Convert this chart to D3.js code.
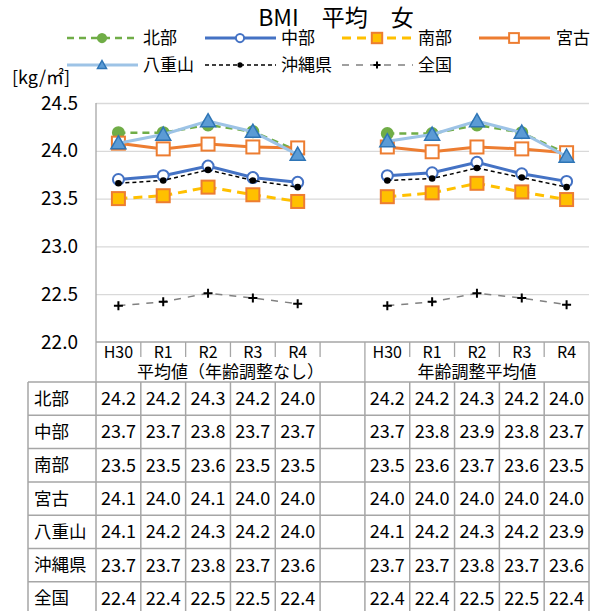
<!DOCTYPE html>
<html>
<head>
<meta charset="utf-8">
<script src="https://cdn.jsdelivr.net/npm/d3@7"></script>
<style>
  body { margin: 0; background: #fff; }
  svg { display: block; font-family: "Noto Sans CJK JP", "Noto Sans", sans-serif; }
</style>
</head>
<body>
<svg id="chart" width="596" height="611"></svg>
<script>
// Section for Data

var years = ["H30", "R1", "R2", "R3", "R4"];
var groupNames = ["平均値（年齢調整なし）", "年齢調整平均値"];
var regionNames = ["北部", "中部", "南部", "宮古", "八重山", "沖縄県", "全国"];
var yTicks = [22.0, 22.5, 23.0, 23.5, 24.0, 24.5];

// first five = 平均値（年齢調整なし）, last five = 年齢調整平均値
var hokubu   = [24.19, 24.19, 24.27, 24.20, 24.00,  24.18, 24.18, 24.27, 24.19, 23.97];
var chubu    = [23.70, 23.74, 23.84, 23.72, 23.67,  23.74, 23.77, 23.88, 23.76, 23.68];
var nanbu    = [23.50, 23.53, 23.62, 23.54, 23.47,  23.52, 23.56, 23.66, 23.57, 23.49];
var miyako   = [24.08, 24.02, 24.07, 24.04, 24.03,  24.04, 23.99, 24.04, 24.02, 23.98];
var yaeyama  = [24.08, 24.17, 24.31, 24.20, 23.96,  24.10, 24.17, 24.31, 24.19, 23.94];
var okinawa  = [23.66, 23.69, 23.80, 23.69, 23.62,  23.69, 23.71, 23.82, 23.72, 23.62];
var zenkoku  = [22.38, 22.42, 22.51, 22.46, 22.40,  22.38, 22.42, 22.51, 22.46, 22.39];

var seriesValues = [hokubu, chubu, nanbu, miyako, yaeyama, okinawa, zenkoku];

// Section for styles
var styles = [
  { color: "#70AD47", width: 2.5, dash: "7,5", marker: "circle", fill: "#70AD47", stroke: "#70AD47" },
  { color: "#4472C4", width: 3,   dash: null,  marker: "circle", fill: "#fff",    stroke: "#4472C4" },
  { color: "#FFC000", width: 3,   dash: "9,6", marker: "square", fill: "#FFC000", stroke: "#ED7D31" },
  { color: "#ED7D31", width: 3,   dash: null,  marker: "square", fill: "#fff",    stroke: "#ED7D31" },
  { color: "#9DC3E6", width: 3,   dash: null,  marker: "triangle", fill: "#5B9BD5", stroke: "#2E75B6" },
  { color: "#000",    width: 1.5, dash: "4,3", marker: "dot",    fill: "#000",    stroke: "#000" },
  { color: "#808080", width: 1.5, dash: "7,7", marker: "plus",   fill: "none",    stroke: "#000" }
];

// Section for layout
var plotLeft = 96, plotRight = 589, plotTop = 103, plotBottom = 342;
var tableTop = 382, rowH = 33.3, tableLeft = 28;
var gridColor = "#D9D9D9", lineColor = "#A6A6A6";

// category slots: 5 years, one empty slot, 5 years
var slots = years.map(function (d) { return "0-" + d; })
  .concat(["gap"])
  .concat(years.map(function (d) { return "1-" + d; }));

var x = d3.scaleBand().domain(slots).range([plotLeft, plotRight]);
var y = d3.scaleLinear().domain([22, 24.5]).range([plotBottom, plotTop]);

var svg = d3.select("#chart");

// Title
svg.append("text")
  .attr("x", 336).attr("y", 26)
  .attr("text-anchor", "middle")
  .attr("font-size", 23)
  .attr("fill", "#000")
  .text("BMI　平均　女");

// Gridlines
svg.append("g")
  .attr("transform", "translate(" + plotLeft + ",0)")
  .call(d3.axisLeft(y).tickValues(yTicks.slice(1)).tickSize(-(plotRight - plotLeft)).tickFormat(""))
  .call(function (g) {
    g.select(".domain").remove();
    g.selectAll("line").attr("stroke", gridColor).attr("stroke-width", 1.3);
  });

// Y axis labels
svg.append("g")
  .attr("transform", "translate(" + plotLeft + ",0)")
  .call(d3.axisLeft(y).tickValues(yTicks).tickSize(0).tickPadding(18).tickFormat(d3.format(".1f")))
  .call(function (g) {
    g.select(".domain").remove();
    g.selectAll("text").attr("font-size", 19).attr("fill", "#000")
      .attr("font-family", "'Noto Sans CJK JP', sans-serif");
  });

svg.append("text")
  .attr("x", 12).attr("y", 84)
  .attr("font-size", 18)
  .text("[kg/㎡]");

// Axis line and category separators
svg.append("line")
  .attr("x1", plotLeft).attr("x2", plotRight)
  .attr("y1", plotBottom).attr("y2", plotBottom)
  .attr("stroke", lineColor).attr("stroke-width", 1.3);

var bounds = slots.map(function (s) { return x(s); }).concat([plotRight]);
var isGroupEdge = function (i) { return i === 0 || i === 6 || i === 11; };
svg.append("g").selectAll("line")
  .data(bounds)
  .enter().append("line")
  .attr("x1", function (d) { return d; })
  .attr("x2", function (d) { return d; })
  .attr("y1", function (d, i) { return i === 0 ? plotTop : plotBottom; })
  .attr("y2", function (d, i) { return isGroupEdge(i) ? tableTop : plotBottom + 15; })
  .attr("stroke", lineColor).attr("stroke-width", 1.3);

// Category labels
svg.append("g").selectAll("text")
  .data(slots.filter(function (s) { return s !== "gap"; }))
  .enter().append("text")
  .attr("x", function (d) { return x(d) + x.bandwidth() / 2; })
  .attr("y", plotBottom + 16)
  .attr("text-anchor", "middle")
  .attr("font-size", 16)
  .text(function (d) { return d.split("-")[1]; });

// Group labels (first group includes the empty slot)
var groupCenters = [(x("0-H30") + x("1-H30")) / 2, (x("1-H30") + plotRight) / 2];
svg.append("g").selectAll("text")
  .data(groupNames)
  .enter().append("text")
  .attr("x", function (d, i) { return groupCenters[i]; })
  .attr("y", plotBottom + 36)
  .attr("text-anchor", "middle")
  .attr("font-size", 17)
  .text(function (d) { return d; });

// Series lines and markers
var cx = function (i) { return x(slots[i < 5 ? i : i + 1]) + x.bandwidth() / 2; };
var line = d3.line()
  .x(function (d) { return cx(d.i); })
  .y(function (d) { return y(d.v); });

function drawMarker(g, type, st, px, py, s) {
  if (type === "circle") {
    g.append("circle").attr("cx", px).attr("cy", py).attr("r", 5.5 * s)
      .attr("fill", st.fill).attr("stroke", st.stroke).attr("stroke-width", 2);
  } else if (type === "square") {
    var h = 6.5 * s;
    g.append("rect").attr("x", px - h).attr("y", py - h).attr("width", 2 * h).attr("height", 2 * h)
      .attr("fill", st.fill).attr("stroke", st.stroke).attr("stroke-width", 2);
  } else if (type === "triangle") {
    var t = 7.5 * s;
    g.append("path")
      .attr("d", "M" + px + "," + (py - t) + "L" + (px + t) + "," + (py + t * 0.75) + "L" + (px - t) + "," + (py + t * 0.75) + "Z")
      .attr("fill", st.fill).attr("stroke", st.stroke).attr("stroke-width", 1.5);
  } else if (type === "dot") {
    g.append("circle").attr("cx", px).attr("cy", py).attr("r", 3.3 * s).attr("fill", "#000");
  } else if (type === "plus") {
    var p = 4.5 * s;
    g.append("path")
      .attr("d", "M" + (px - p) + "," + py + "H" + (px + p) + "M" + px + "," + (py - p) + "V" + (py + p))
      .attr("stroke", "#000").attr("stroke-width", 2);
  }
}

var plot = svg.append("g");
seriesValues.forEach(function (vals, k) {
  var st = styles[k];
  var pts = vals.map(function (v, i) { return { i: i, v: v }; });
  [pts.slice(0, 5), pts.slice(5)].forEach(function (seg) {
    plot.append("path")
      .attr("d", line(seg))
      .attr("fill", "none")
      .attr("stroke", st.color)
      .attr("stroke-width", st.width)
      .attr("stroke-dasharray", st.dash);
  });
  pts.forEach(function (d) {
    drawMarker(plot, st.marker, st, cx(d.i), y(d.v), 1);
  });
});

// Legend
var legendPos = [[67, 38], [205, 38], [342, 38], [479, 38], [67, 65], [205, 65], [342, 65]];
var legendScale = [0.75, 0.75, 0.8, 0.75, 0.6, 0.8, 0.8];
var legend = svg.append("g");
regionNames.forEach(function (name, k) {
  var st = styles[k];
  var lx = legendPos[k][0], ly = legendPos[k][1];
  legend.append("line")
    .attr("x1", lx).attr("x2", lx + 71).attr("y1", ly).attr("y2", ly)
    .attr("stroke", st.color).attr("stroke-width", st.width)
    .attr("stroke-dasharray", st.dash);
  drawMarker(legend, st.marker, st, lx + 35, ly, legendScale[k]);
  legend.append("text")
    .attr("x", k === 3 ? 556 : lx + 76).attr("y", ly + 6)
    .attr("font-size", 17)
    .text(name);
});

// Data table
var fmt = d3.format(".1f");
var table = svg.append("g");
var rowY = function (r) { return tableTop + r * rowH; };

regionNames.forEach(function (name, r) {
  table.append("text")
    .attr("x", tableLeft + 6).attr("y", rowY(r) + rowH / 2 + 6)
    .attr("font-size", 17.5)
    .text(name);
  seriesValues[r].forEach(function (v, i) {
    table.append("text")
      .attr("x", cx(i)).attr("y", rowY(r) + rowH / 2 + 6.5)
      .attr("text-anchor", "middle")
      .attr("font-size", 18)
      .text(fmt(v));
  });
});

// table grid
d3.range(regionNames.length + 1).forEach(function (r) {
  table.append("line")
    .attr("x1", tableLeft).attr("x2", plotRight)
    .attr("y1", rowY(r)).attr("y2", rowY(r))
    .attr("stroke", lineColor).attr("stroke-width", 1.5);
});
[tableLeft].concat(bounds).forEach(function (bx) {
  table.append("line")
    .attr("x1", bx).attr("x2", bx)
    .attr("y1", tableTop).attr("y2", rowY(regionNames.length))
    .attr("stroke", lineColor).attr("stroke-width", 1.5);
});
</script>
</body>
</html>
